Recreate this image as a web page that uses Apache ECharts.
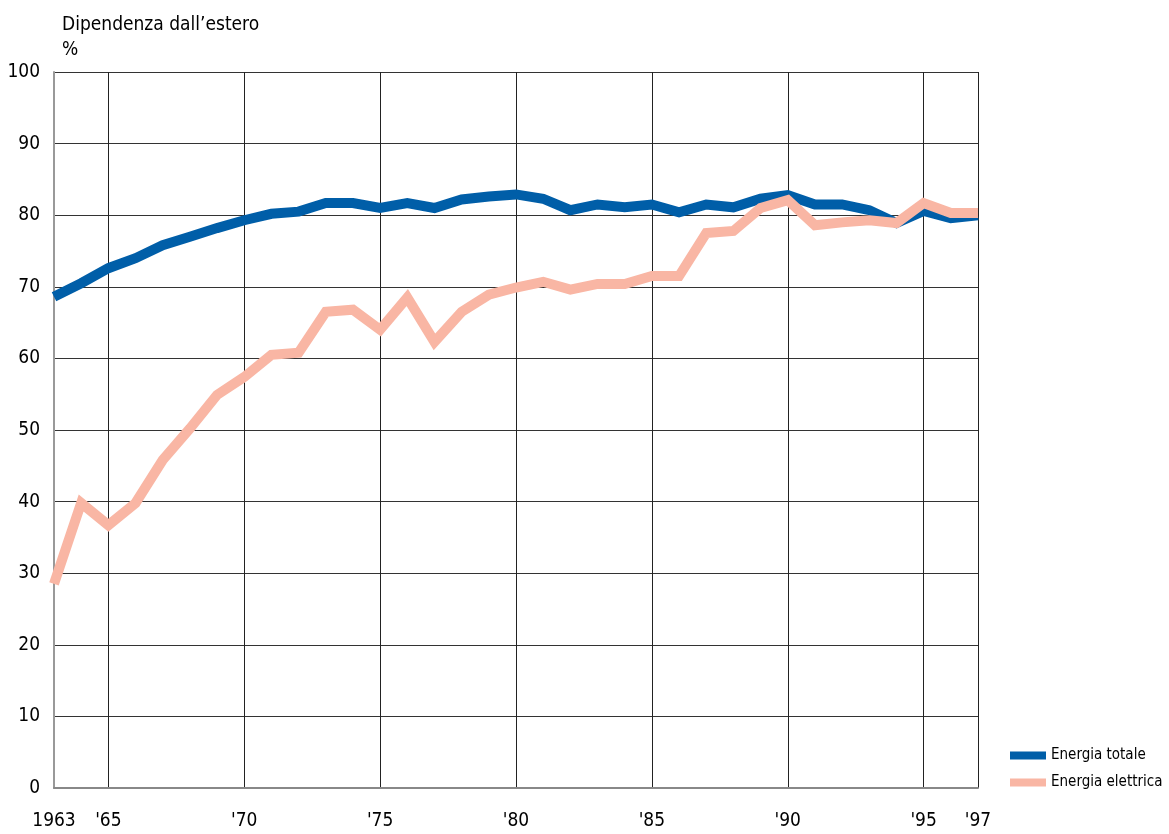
<!DOCTYPE html>
<html><head><meta charset="utf-8">
<script src="https://cdn.jsdelivr.net/npm/echarts@6/dist/echarts.min.js"></script>
<style>html,body{margin:0;padding:0;background:#fff}#c{width:1169px;height:834px}</style>
</head><body><div id="c"></div>
<script>
const years = [];
for (let y = 1963; y <= 1997; y++) years.push(String(y));
const tickLabels = {'1963':'1963','1965':"'65",'1970':"'70",'1975':"'75",'1980':"'80",'1985':"'85",'1990':"'90",'1995':"'95",'1997':"'97"};
const gridYears = ['1965','1970','1975','1980','1985','1990','1995','1997'];
const energiaTotale = [68.6,70.5,72.6,74.0,75.8,77.0,78.2,79.3,80.2,80.5,81.7,81.7,81.0,81.7,81.0,82.2,82.6,82.9,82.3,80.7,81.5,81.1,81.5,80.4,81.5,81.1,82.3,82.8,81.5,81.5,80.7,78.9,80.6,79.6,80.0];
const energiaElettrica = [28.5,39.8,36.7,39.8,45.8,50.2,54.9,57.4,60.5,60.8,66.5,66.8,64.0,68.5,62.3,66.5,68.9,69.9,70.7,69.6,70.4,70.4,71.5,71.5,77.5,77.8,81.0,82.1,78.6,79.0,79.3,78.9,81.7,80.3,80.3];
const FONT = '"Liberation Sans Narrow","DejaVu Sans Condensed",sans-serif';
const chart = echarts.init(document.getElementById('c'));
chart.setOption({
  animation: false,
  backgroundColor: '#fff',
  title: {text: 'Dipendenza dall\u2019estero\n%', left: 57, top: 8,
    textStyle: {fontFamily: FONT, fontSize: 19, fontWeight: 'normal', color: '#000', lineHeight: 25}},
  legend: {orient: 'vertical', left: 1010, top: 748, padding: 0, icon: 'rect', itemWidth: 36, itemHeight: 8, itemGap: 12,
    textStyle: {fontFamily: FONT, fontSize: 15, color: '#000'},
    data: ['Energia totale', 'Energia elettrica']},
  grid: {left: 54, right: 191, top: 72, bottom: 46, containLabel: false},
  xAxis: {type: 'category', data: years, boundaryGap: false,
    axisLine: {show: true, lineStyle: {color: '#888', width: 2}},
    axisTick: {show: false},
    axisLabel: {interval: (i, v) => tickLabels[v] !== undefined, formatter: v => tickLabels[v] || '',
      fontFamily: FONT, fontSize: 19, color: '#000', margin: 24},
    splitLine: {show: true, interval: (i, v) => gridYears.indexOf(v) >= 0, lineStyle: {color: '#222', width: 1}}},
  yAxis: {type: 'value', min: 0, max: 100, interval: 10,
    axisLine: {show: true, lineStyle: {color: '#999', width: 2}},
    axisTick: {show: false},
    axisLabel: {fontFamily: FONT, fontSize: 19, color: '#000', margin: 14},
    splitLine: {show: true, lineStyle: {color: '#333', width: 1}}},
  series: [
    {name: 'Energia totale', type: 'line', data: energiaTotale, showSymbol: false, symbol: 'none',
      itemStyle: {color: '#005EA8'}, lineStyle: {color: '#005EA8', width: 10, join: 'miter', cap: 'butt'}},
    {name: 'Energia elettrica', type: 'line', data: energiaElettrica, showSymbol: false, symbol: 'none',
      itemStyle: {color: '#F9B6A4'}, lineStyle: {color: '#F9B6A4', width: 10, join: 'miter', cap: 'butt'}}
  ]
});
</script></body></html>
